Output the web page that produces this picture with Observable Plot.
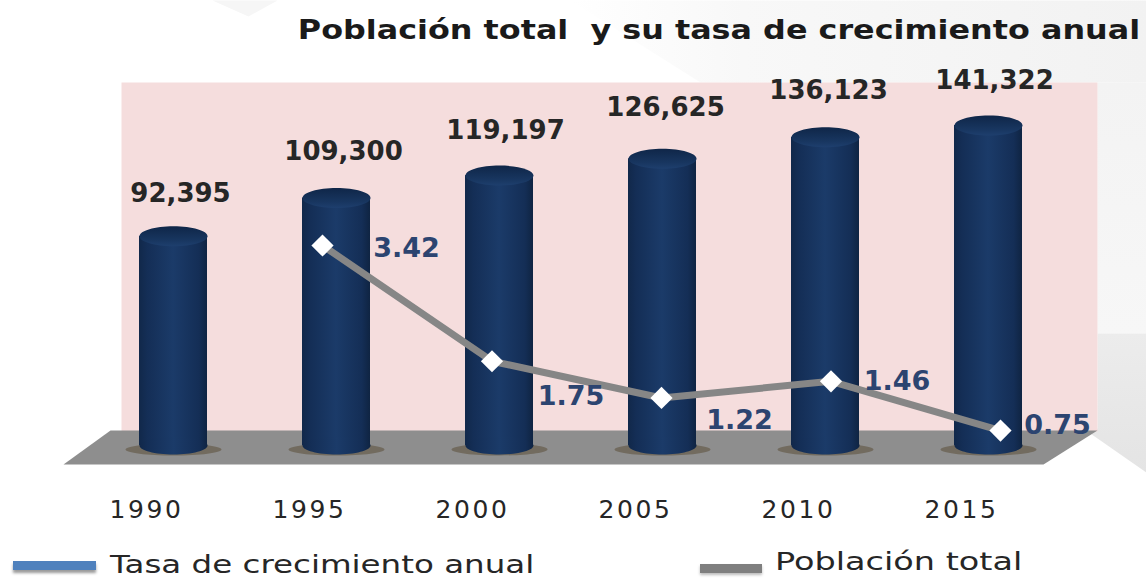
<!DOCTYPE html>
<html lang="es">
<head>
<meta charset="utf-8">
<script src="https://cdn.jsdelivr.net/npm/d3@7"></script>
<script src="https://cdn.jsdelivr.net/npm/@observablehq/plot@0.6"></script>
<style>
html,body{margin:0;padding:0;background:#fff;overflow:hidden}
#wrap{position:relative;width:1146px;height:579px;overflow:hidden;font-family:"DejaVu Sans",sans-serif;color:#262626}
#wrap svg{position:absolute;left:0;top:0;max-width:none;background:transparent}
.t{position:absolute;white-space:pre;line-height:1}
.sw{position:absolute;height:9px}
</style>
</head>
<body>
<div id="wrap"></div>
<script>
const years = [1990, 1995, 2000, 2005, 2010, 2015];
const poblacion = [92395, 109300, 119197, 126625, 136123, 141322];
const tasaYears = [1995, 2000, 2005, 2010, 2015];
const tasa = [3.42, 1.75, 1.22, 1.46, 0.75];
const legendNames = ["Tasa de crecimiento anual", "Población total"];
const titleText = "Población total  y su tasa de crecimiento anual";

const rows = years.map((year, i) => ({year, poblacion: poblacion[i]}));

// the chart's pixel frame, used only for the decoration and the scales
const xRange = [173, 988], yRange = [445, 125];
const xs = d3.scaleLinear([1990, 2015], xRange);
const ys = d3.scaleLinear([0, 141322], yRange);

// secondary axes of the line: the 3D perspective shifts it from the columns
const lineX = d3.scaleLinear([1995, 2015], [xs.invert(322), xs.invert(1000)]);
const lineY = d3.scaleLinear([0, 3.42], [ys.invert(482), ys.invert(245)]);
const lineRows = tasaYears.map((year, i) => ({year, tasa: tasa[i], px: lineX(year), py: lineY(tasa[i])}));

const px = pts => pts.map(([a, b]) => ({a: xs.invert(a), b: ys.invert(b)}));
const poly = (pts, fill) => Plot.line(px(pts), {x: "a", y: "b", fill, stroke: "none"});

const ellipse = (a, b) => ({draw(ctx) {
  const k = 0.5523;
  ctx.moveTo(-a, 0);
  ctx.bezierCurveTo(-a, -b * k, -a * k, -b, 0, -b);
  ctx.bezierCurveTo(a * k, -b, a, -b * k, a, 0);
  ctx.bezierCurveTo(a, b * k, a * k, b, 0, b);
  ctx.bezierCurveTo(-a * k, b, -a, b * k, -a, 0);
  ctx.closePath();
}});

const defs = () => {
  const ns = "http://www.w3.org/2000/svg";
  const d = document.createElementNS(ns, "defs");
  d.innerHTML = `
  <linearGradient id="barGrad" x1="0" x2="1" y1="0" y2="0">
    <stop offset="0" stop-color="#11284a"/><stop offset=".12" stop-color="#142e56"/>
    <stop offset=".5" stop-color="#1b3b69"/><stop offset=".88" stop-color="#142e56"/>
    <stop offset="1" stop-color="#0f2442"/>
  </linearGradient>
  <linearGradient id="capGrad" x1="0" x2="0" y1="0" y2="1">
    <stop offset="0" stop-color="#0f2648"/><stop offset=".7" stop-color="#183660"/>
    <stop offset="1" stop-color="#1e3f6e"/>
  </linearGradient>
  <linearGradient id="topGrad" x1="0" x2="1" y1="0" y2="0">
    <stop offset="0" stop-color="#ffffff"/><stop offset=".3" stop-color="#f8f8f8"/>
    <stop offset="1" stop-color="#f2f2f2"/>
  </linearGradient>
  <linearGradient id="sideGrad" x1="0" x2="0" y1="0" y2="1">
    <stop offset="0" stop-color="#f3f3f3"/><stop offset="1" stop-color="#f7f7f7"/>
  </linearGradient>
  <linearGradient id="lowGrad" x1="0" x2="0" y1="0" y2="1">
    <stop offset="0" stop-color="#ececec"/><stop offset="1" stop-color="#e4e4e4"/>
  </linearGradient>`;
  return d;
};

const barHalf = 34 / 32.6;
const labelPos = [[7, -43], [7, -46], [6, -45], [3, -51], [3, -47], [6, -45]];
const tasaPos = [[84, 3], [79, 35], [78, 22], [66, 0], [57, -5]];

const marks = [
  defs,
  poly([[212, 0], [277, 0], [248, 16]], "#f6f6f6"),
  poly([[570, 0], [1146, 0], [1146, 82], [700, 82]], "url(#topGrad)"),
  poly([[1097, 82], [1146, 82], [1146, 333], [1097, 333]], "url(#sideGrad)"),
  poly([[1097, 333], [1146, 333], [1146, 472], [1087, 431], [1097, 428]], "url(#lowGrad)"),
  poly([[121, 82], [1097, 82], [1097, 431], [121, 431]], "#f5dddd"),
  poly([[63, 464], [1043, 464], [1097, 430], [110, 430]], "#8e8e8e"),
  Plot.dot(rows, {x: "year", y: () => 0, dy: 4, symbol: ellipse(48, 6), fill: "#726b5f"}),
  Plot.rectY(rows, {x1: d => d.year - barHalf, x2: d => d.year + barHalf, y1: 0, y2: "poblacion", fill: "url(#barGrad)"}),
  Plot.dot(rows, {x: "year", y: () => 0, symbol: ellipse(34, 9), fill: "url(#barGrad)"}),
  Plot.dot(rows, {x: "year", y: "poblacion", symbol: ellipse(34, 10), fill: "url(#capGrad)"}),
  Plot.line(lineRows, {x: "px", y: "py", stroke: "#868686", strokeWidth: 7}),
  Plot.dot(lineRows, {x: "px", y: "py", symbol: "diamond2", r: 10, fill: "#ffffff"}),
  ...rows.map((r, i) => Plot.text([r], {
    x: "year", y: "poblacion", text: d => d3.format(",")(d.poblacion),
    dx: labelPos[i][0], dy: labelPos[i][1], fontSize: 26, fontWeight: 700,
    fontFamily: "DejaVu Sans", fill: "#262626"
  })),
  ...lineRows.map((r, i) => Plot.text([r], {
    x: "px", y: "py", text: d => d3.format(".2f")(d.tasa),
    dx: tasaPos[i][0], dy: tasaPos[i][1], fontSize: 27, fontWeight: 700, fontFamily: "DejaVu Sans",
    fill: "#2c4470"
  })),
  Plot.axisX({
    ticks: years, tickFormat: "d", tickSize: 0, tickPadding: 0, dx: -27,
    fontSize: 25, fontFamily: "DejaVu Sans", label: null, anchor: "bottom", color: "#262626"
  })
];

const chart = Plot.plot({
  width: 1146, height: 579,
  marginLeft: 0, marginRight: 0, marginTop: 0, marginBottom: 79,
  x: {domain: [1990, 2015], range: xRange, label: null},
  y: {domain: [0, 141322], range: yRange, axis: null, label: null},
  style: {background: "transparent", overflow: "visible"},
  marks
});
d3.select(chart).selectAll('[aria-label="x-axis tick label"] text').attr("letter-spacing", 2.6);
const wrap = document.getElementById("wrap");
wrap.appendChild(chart);

const add = (cls, text, css) => {
  const e = document.createElement("div");
  e.className = cls; e.textContent = text; e.style.cssText = css;
  wrap.appendChild(e);
};
add("t", titleText, "right:6px;top:17px;font-size:26px;font-weight:700;color:#1a1a1a;transform:scaleX(1.224);transform-origin:right center");
add("sw", "", "left:13px;top:561px;width:83px;background:#4f81bd;box-shadow:0 3px 3px #9a9a9a");
add("t", legendNames[0], "left:110px;top:552px;font-size:25px;color:#262626;transform:scaleX(1.3);transform-origin:left center");
add("sw", "", "left:700px;top:564px;width:62px;background:#7f7f7f;box-shadow:0 2px 3px #bbb");
add("t", legendNames[1], "left:775px;top:549px;font-size:25px;color:#262626;transform:scaleX(1.34);transform-origin:left center");
</script>
</body>
</html>
